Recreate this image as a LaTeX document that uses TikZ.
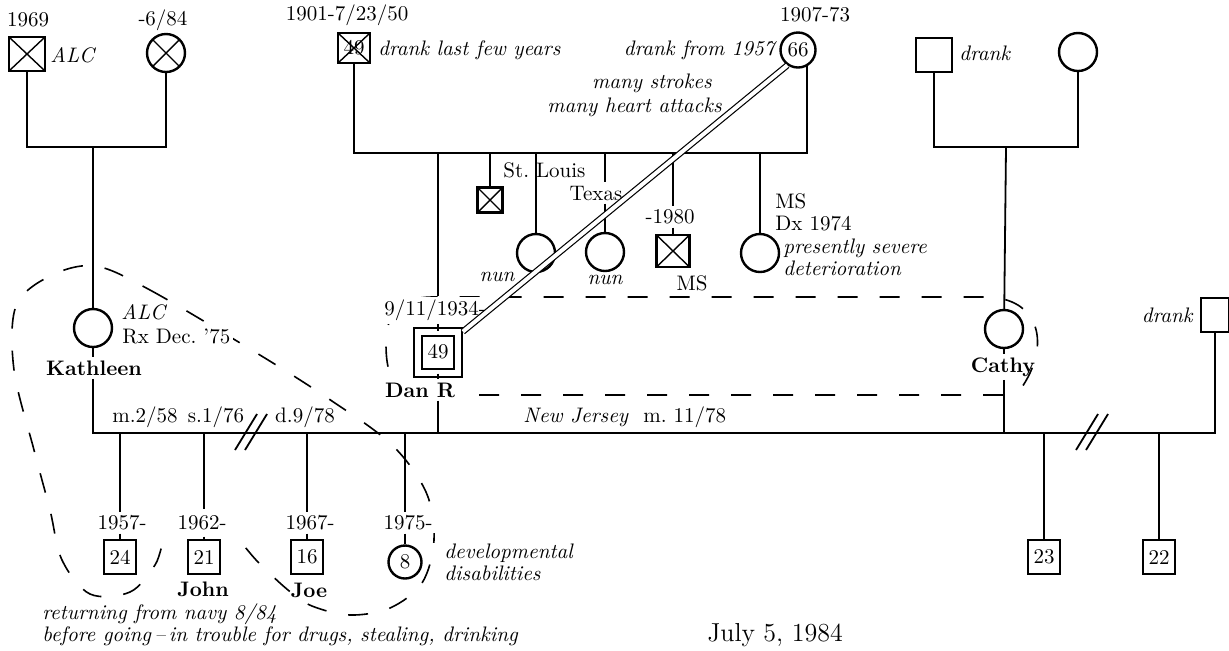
\documentclass[tikz,border=0pt]{standalone}
\usepackage{tikz}

\begin{document}
\begin{tikzpicture}[x=0.5pt, y=-0.5pt, font=\fontsize{10.5}{11}\selectfont,
    tie/.style={line width=0.9pt},
    male/.style={draw, line width=1.2pt, inner sep=0pt, minimum width=18pt, minimum height=17pt},
    female/.style={draw, circle, line width=1.2pt, inner sep=0pt, minimum size=19pt},
    kid/.style={draw, line width=1.2pt, inner sep=0pt, minimum width=16pt, minimum height=17pt},
    deceased/.style={path picture={\draw[line width=0.7pt] (path picture bounding box.north west) -- (path picture bounding box.south east) (path picture bounding box.north east) -- (path picture bounding box.south west);}},
    lbl/.style={inner sep=1.5pt},
    note/.style={font=\fontsize{10.5}{11}\selectfont\itshape, inner sep=1pt},
    nm/.style={font=\fontsize{10.5}{11}\selectfont\bfseries, inner sep=1.5pt},
    loopline/.style={line width=0.8pt, dash pattern=on 10pt off 11pt},
    twin/.style={double, double distance=2pt, line width=0.6pt}
]
    \useasboundingbox (0,0) rectangle (1229,650);

    \draw[loopline] (1003,395) -- (420,395) .. controls (392,395) and (386,370) .. (386,345) .. controls (386,312) and (400,297) .. (433,297) -- (985,297) .. controls (1040,297) and (1052,345) .. (1020,390);
    \draw[loopline] plot[smooth cycle, tension=0.55] coordinates {(95,266) (150,290) (255,352) (326,397) (391,444) (426,492) (434,540) (422,583) (390,608) (350,615) (312,606) (288,590) (258,562) (232,534) (200,521) (168,534) (155,565) (130,592) (90,594) (62,560) (50,510) (34,450) (14,370) (16,306) (50,276)};

    \node[male, deceased] (kgf) at (27,54) {};
    \node[lbl] (kgfdate) at (28,20) {1969};
    \node[note, anchor=west] (kgfalc) at (48,55) {ALC};
    \node[female, deceased] (kgm) at (166,53) {};
    \node[lbl] (kgmdate) at (163,20) {-6/84};
    \coordinate (kbar) at (93,147);

    \node[female] (kath) at (93,328) {};
    \node[note, anchor=west] (kalc) at (119,312) {ALC};
    \node[lbl, anchor=west, fill=white] (krx) at (119,336) {Rx Dec.\ '75};
    \node[nm] (kname) at (94,368) {Kathleen};

    \node[male, deceased, minimum width=16pt, minimum height=15pt] (pgf) at (354,48) {49};
    \node[lbl] (pgfdate) at (347,15) {1901-7/23/50};
    \node[note, anchor=west] (pgfnote) at (376,50) {drank last few years};
    \node[female, minimum size=17.5pt] (pgm) at (798,50) {66};
    \node[lbl] (pgmdate) at (815,15) {1907-73};
    \node[note, anchor=east] (pgmnote) at (777,50) {drank from 1957};
    \node[note, anchor=east] (strokes) at (714,83) {many strokes};
    \node[note, anchor=east] (attacks) at (724,107) {many heart attacks};
    \coordinate (pl) at (352,153);
    \coordinate (pr) at (pgm.-60 |- pl);

    \node[male, deceased, minimum width=12.5pt, minimum height=12.5pt] (stl) at (490,200) {};
    \node[lbl, anchor=west] (stlouis) at (500,170) {St.\ Louis};
    \node[female] (nun1) at (536,253) {};
    \node[note] (nun1note) at (497,277) {nun};
    \node[lbl] (texas) at (596,193) {Texas};
    \node[female] (nun2) at (605,252) {};
    \node[note] (nun2note) at (605,280) {nun};
    \node[male, deceased, minimum width=16.5pt, minimum height=16pt] (ms80) at (673,251) {};
    \node[lbl] (ms80date) at (670,217) {-1980};
    \node[lbl] (ms80note) at (692,283) {MS};
    \node[female] (ms74) at (760,253) {};
    \node[lbl, anchor=west, align=left] (ms74note) at (772,212) {MS\\Dx 1974};
    \node[note, anchor=west, align=left] (ms74sev) at (781,257) {presently severe\\deterioration};

    \node[lbl, fill=white] (dandate) at (435,310) {9/11/1934-};
    \node[draw, double, double distance=3pt, line width=1pt, minimum width=20pt, minimum height=20.5pt, inner sep=0pt, fill=white] (danr) at (438,352) {49};
    \node[nm, fill=white] (dname) at (420,390) {Dan R};

    \node[male] (cgf) at (934,55) {};
    \node[note, anchor=west] (cgfnote) at (957,53) {drank};
    \node[female] (cgm) at (1078,52) {};
    \coordinate (cbar) at (1006,147);
    \node[female] (cathy) at (1004,329) {};
    \node[nm] (cname) at (1003,367) {Cathy};

    \node[male, minimum width=14pt, minimum height=17pt] (rdrank) at (1215,315) {};
    \node[note, anchor=east] (rdrnote) at (1195,315) {drank};
    \coordinate (mline) at (0,433);

    \node[lbl] (mdate) at (145,417) {m.2/58};
    \node[lbl] (sdate) at (216,417) {s.1/76};
    \node[lbl] (ddate) at (305,417) {d.9/78};
    \node[note, anchor=west] (nj) at (521,417) {New Jersey};
    \node[lbl, anchor=west] (mdate2) at (640,417) {m.\ 11/78};
    \coordinate (cut1) at (251,432);
    \coordinate (cut2) at (1092,432);

    \node[lbl, fill=white] (d24) at (122,523) {1957-};
    \node[kid] (b24) at (120,557) {24};
    \node[lbl, fill=white, inner sep=3pt] (d21) at (202,523) {1962-};
    \node[kid] (b21) at (204,557) {21};
    \node[nm] (john) at (203,589) {John};
    \node[lbl, fill=white] (d16) at (310,523) {1967-};
    \node[kid] (b16) at (307,557) {16};
    \node[nm] (joe) at (309,590) {Joe};
    \node[lbl, fill=white] (d8) at (408,523) {1975-};
    \node[female, minimum size=16.5pt] (b8) at (405,562) {8};
    \node[note, anchor=west, align=left] (dev) at (442,562) {developmental\\disabilities};
    \node[note, anchor=west, align=left] (navy) at (40,625) {returning from navy 8/84\\before going\,--\,in trouble for drugs, stealing, drinking};
    \node[kid] (b23) at (1044,557) {23};
    \node[kid] (b22) at (1159,557) {22};
    \node[lbl, font=\fontsize{13}{15}\selectfont] (today) at (775,635) {July 5, 1984};

    \draw[tie] (kgf) |- (kbar) -| (kgm);
    \draw[tie] (kbar) -- (kath);
    \draw[tie] (kath) -- (kname.north -| kath);
    \draw[tie] (kname.south -| kath) -- (kath |- mline) -| (rdrank);

    \draw[tie] (pgf) |- (pr) -- (pgm.-60);
    \draw[tie] (danr |- pl) -- (dandate.north -| danr);
    \draw[tie] (dandate.south -| danr) -- (danr);
    \draw[tie] (danr) -- (dname.north -| danr);
    \draw[tie] (dname.south -| danr) -- (danr |- mline);
    \draw[tie] (stl |- pl) -- (stl);
    \draw[tie] (nun1 |- pl) -- (nun1);
    \draw[tie] (nun2 |- pl) -- (texas.north -| nun2);
    \draw[tie] (texas.south -| nun2) -- (nun2);
    \draw[tie] (ms80 |- pl) -- (ms80date.north -| ms80);
    \draw[tie] (ms80date.south -| ms80) -- (ms80);
    \draw[tie] (ms74 |- pl) -- (ms74);

    \draw[tie] (cgf) |- (cbar) -| (cgm);
    \draw[tie] (cbar) -- (cathy);
    \draw[tie] (cathy) -- (cname.north -| cathy);
    \draw[tie] (cname.south -| cathy) -- (cathy |- mline);

    \foreach \k in {24,21,16,8} {
        \draw[tie] (b\k |- mline) -- (d\k.north -| b\k);
        \draw[tie] (d\k.south -| b\k) -- (b\k);
    }
    \draw[tie] (b23 |- mline) -- (b23);
    \draw[tie] (b22 |- mline) -- (b22);

    \foreach \c in {cut1,cut2} {
        \draw[tie] ([shift={(-8pt,-9pt)}]\c) -- ([shift={(3pt,9pt)}]\c);
        \draw[tie] ([shift={(-3pt,-9pt)}]\c) -- ([shift={(8pt,9pt)}]\c);
    }

    \draw[twin, shorten <=2.5pt] (danr) -- (pgm.235);
\end{tikzpicture}
\end{document}
